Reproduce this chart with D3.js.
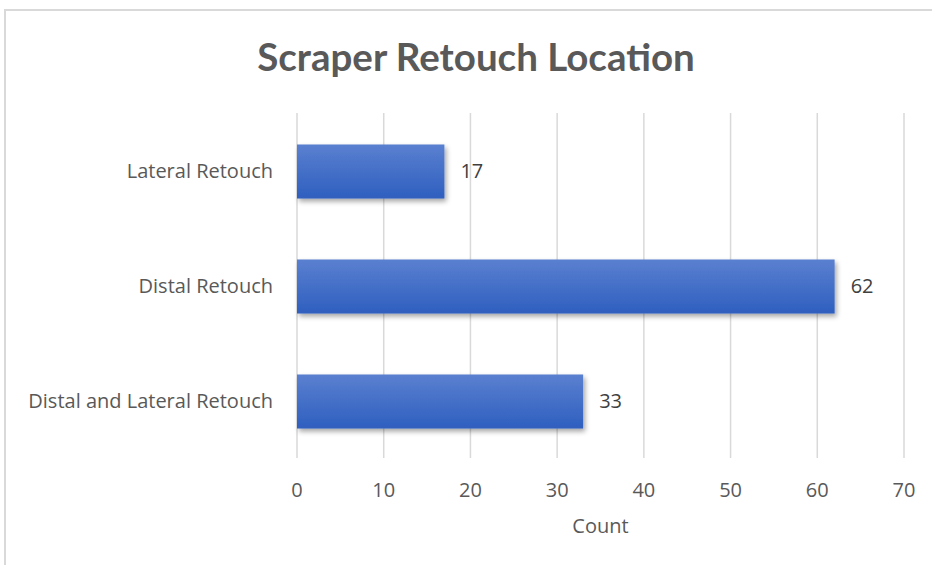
<!DOCTYPE html>
<html>
<head>
<meta charset="utf-8">
<script src="https://cdn.jsdelivr.net/npm/d3@7"></script>
<style>
  body { margin: 0; background: #fff; }
  svg { font-family: "Open Sans", Lato, sans-serif; }
</style>
</head>
<body>
<div id="chart"></div>
<script>
// data
const categories = ["Lateral Retouch", "Distal Retouch", "Distal and Lateral Retouch"];
const counts = [17, 62, 33];
const xTicks = [0, 10, 20, 30, 40, 50, 60, 70];

const W = 932, H = 565;
const margin = { top: 113, left: 297, right: 28, bottom: 107 };

const svg = d3.select("#chart").append("svg")
    .attr("width", W).attr("height", H);

// gradient + shadow for bars
const defs = svg.append("defs");
const grad = defs.append("linearGradient").attr("id", "barGrad")
    .attr("x1", 0).attr("y1", 0).attr("x2", 0).attr("y2", 1);
grad.append("stop").attr("offset", "0%").attr("stop-color", "#5a80d0");
grad.append("stop").attr("offset", "100%").attr("stop-color", "#2f5fbf");
const shadow = defs.append("filter").attr("id", "shadow")
    .attr("x", "-5%").attr("y", "-20%").attr("width", "115%").attr("height", "150%");
shadow.append("feDropShadow").attr("dx", 2).attr("dy", 3).attr("stdDeviation", 2.5)
    .attr("flood-color", "#000").attr("flood-opacity", 0.35);

// chart frame
svg.append("rect")
    .attr("x", 5).attr("y", 10).attr("width", W + 20).attr("height", H + 20)
    .attr("fill", "#fff").attr("stroke", "#d9d9d9").attr("stroke-width", 2);

// title
svg.append("text")
    .attr("x", 476).attr("y", 71)
    .attr("text-anchor", "middle")
    .attr("font-family", "Lato, sans-serif")
    .attr("font-size", 38.5).attr("font-weight", "bold")
    .attr("fill", "#595959")
    .text("Scraper Retouch Location");

// scales
const x = d3.scaleLinear().domain([0, 70]).range([margin.left, W - margin.right]);
const y = d3.scaleBand().domain(categories)
    .range([margin.top, H - margin.bottom]).paddingInner(0.53).paddingOuter(0.265);

// gridlines
svg.append("g").selectAll("line")
    .data(xTicks).join("line")
    .attr("x1", d => x(d)).attr("x2", d => x(d))
    .attr("y1", margin.top).attr("y2", H - margin.bottom)
    .attr("stroke", "#d9d9d9").attr("stroke-width", 1.5);

// x tick labels
svg.append("g").selectAll("text")
    .data(xTicks).join("text")
    .attr("x", d => x(d)).attr("y", 497)
    .attr("text-anchor", "middle")
    .attr("font-size", 20).attr("fill", "#595959")
    .text(d => d);

// x axis title
svg.append("text")
    .attr("x", x(35)).attr("y", 533)
    .attr("text-anchor", "middle")
    .attr("font-size", 20).attr("fill", "#595959")
    .text("Count");

// category labels
svg.append("g").selectAll("text")
    .data(categories).join("text")
    .attr("x", 273).attr("y", d => y(d) + y.bandwidth() / 2 + 7)
    .attr("text-anchor", "end")
    .attr("font-size", 20).attr("fill", "#595959")
    .text(d => d);

// bars
svg.append("g").selectAll("rect")
    .data(categories).join("rect")
    .attr("x", x(0)).attr("y", d => y(d) + 1)
    .attr("width", (d, i) => x(counts[i]) - x(0))
    .attr("height", y.bandwidth())
    .attr("fill", "url(#barGrad)")
    .attr("filter", "url(#shadow)");

// value labels
svg.append("g").selectAll("text")
    .data(categories).join("text")
    .attr("x", (d, i) => x(counts[i]) + 16).attr("y", d => y(d) + y.bandwidth() / 2 + 7)
    .attr("font-size", 20).attr("fill", "#404040")
    .text((d, i) => counts[i]);
</script>
</body>
</html>
